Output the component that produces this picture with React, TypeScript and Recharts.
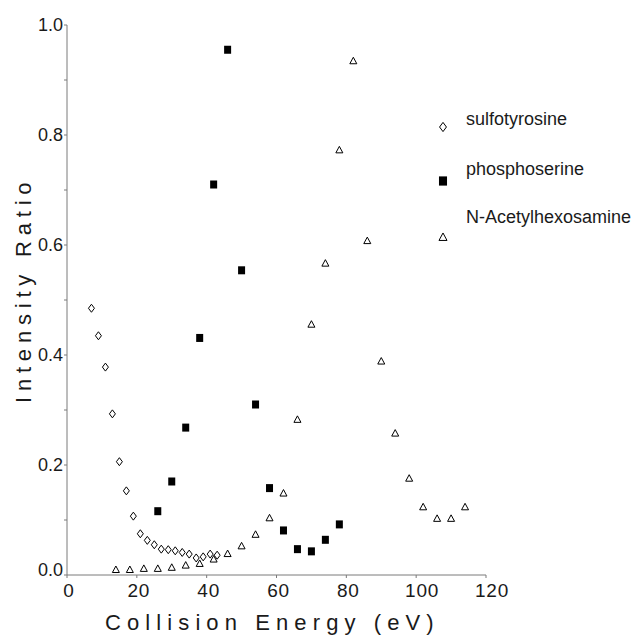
import React from 'react'
import { ScatterChart, Scatter, XAxis, YAxis, Legend, Label } from 'recharts'

// sulfotyrosine (open diamonds)
const sulfoEnergy = [7, 9, 11, 13, 15, 17, 19, 21, 23, 25, 27, 29, 31, 33, 35, 37, 39, 41, 43]
const sulfoRatio = [0.485, 0.435, 0.378, 0.293, 0.206, 0.153, 0.107, 0.075, 0.063, 0.055, 0.047, 0.046, 0.044, 0.041, 0.038, 0.031, 0.033, 0.038, 0.036]

// phosphoserine (filled squares)
const phosEnergy = [26, 30, 34, 38, 42, 46, 50, 54, 58, 62, 66, 70, 74, 78]
const phosRatio = [0.116, 0.17, 0.268, 0.431, 0.71, 0.955, 0.554, 0.31, 0.158, 0.081, 0.047, 0.043, 0.064, 0.092]

// N-Acetylhexosamine (open triangles)
const hexEnergy = [14, 18, 22, 26, 30, 34, 38, 42, 46, 50, 54, 58, 62, 66, 70, 74, 78, 82, 86, 90, 94, 98, 102, 106, 110, 114]
const hexRatio = [0.01, 0.01, 0.012, 0.012, 0.014, 0.018, 0.021, 0.029, 0.039, 0.053, 0.074, 0.104, 0.149, 0.283, 0.456, 0.567, 0.773, 0.935, 0.608, 0.389, 0.258, 0.176, 0.124, 0.103, 0.103, 0.124]

const xTicks = [0, 20, 40, 60, 80, 100, 120]
const yTicks = [0, 0.1, 0.2, 0.3, 0.4, 0.5, 0.6, 0.7, 0.8, 0.9, 1.0]

const seriesNames = ['sulfotyrosine', 'phosphoserine', 'N-Acetylhexosamine']

const toPoints = (xs: number[], ys: number[]) => xs.map((x, i) => ({ x, y: ys[i] }))

const FONT = 'Arial, "Liberation Sans", sans-serif'
const INK = '#1a1a1a'
const AXIS = '#7a7a7a'

const Diamond = ({ cx, cy, s = 1 }: any) => (
  <path d={`M${cx},${cy - 4 * s} L${cx + 3 * s},${cy} L${cx},${cy + 4 * s} L${cx - 3 * s},${cy} Z`} fill="#fff" stroke="#000" strokeWidth={1} />
)
const Square = ({ cx, cy, s = 1 }: any) => (
  <rect x={cx - 3.5 * s} y={cy - 4 * s} width={7 * s} height={8 * s} fill="#000" />
)
const Triangle = ({ cx, cy, s = 1 }: any) => (
  <path d={`M${cx},${cy - 3.5 * s} L${cx + 3.5 * s},${cy + 3 * s} L${cx - 3.5 * s},${cy + 3 * s} Z`} fill="#fff" stroke="#000" strokeWidth={1} />
)

const YTick = ({ x, y, payload }: any) => {
  const v = payload.value
  if (Math.round(v * 10) % 2 !== 0) return <g />
  // the 0.0 label sits a little above the x axis in the original
  return (
    <text x={x} y={v === 0 ? y - 5 : y} dy="0.355em" textAnchor="end" fontSize={18} fontFamily={FONT} fill={INK}>
      {v.toFixed(1)}
    </text>
  )
}

const XTick = ({ x, y, payload }: any) => (
  <text x={x} y={y} dy="0.71em" dx={payload.value >= 100 ? 6 : 2} textAnchor="middle" fontSize={19} letterSpacing={0.8} fontFamily={FONT} fill={INK}>
    {payload.value}
  </text>
)

const renderLegend = () => {
  const shapes = [Diamond, Square, Triangle]
  const markerY = [17, 71, 127]
  const textY = [15, 65, 113]
  return (
    <svg width={209} height={150}>
      {seriesNames.map((name, i) => {
        const Shape = shapes[i]
        return (
          <g key={name}>
            <Shape cx={13} cy={markerY[i]} s={1.15} />
            <text x={36} y={textY[i]} fontSize={18} fontFamily={FONT} fill={INK}>{name}</text>
          </g>
        )
      })}
    </svg>
  )
}

export default function App() {
  return (
    <div style={{ position: 'absolute', left: 0, top: 0, background: '#fff' }}>
      <ScatterChart width={639} height={635} margin={{ top: 25, right: 153, bottom: 0, left: 0 }}>
        <XAxis
          type="number"
          dataKey="x"
          domain={[0, 120]}
          ticks={xTicks}
          height={60}
          tickSize={3}
          tickMargin={6}
          stroke={AXIS}
          tick={<XTick />}
        >
          <Label
            content={() => (
              <text x={105} y={630} fontSize={22} fontFamily={FONT} fill={INK} letterSpacing={6.1}>
                Collision Energy (eV)
              </text>
            )}
          />
        </XAxis>
        <YAxis
          type="number"
          dataKey="y"
          domain={[0, 1]}
          ticks={yTicks}
          width={67}
          tickSize={3}
          tickMargin={1}
          stroke={AXIS}
          tick={<YTick />}
        >
          <Label
            content={() => (
              <text x={31} y={403} transform="rotate(-90 31 403)" fontSize={22} fontFamily={FONT} fill={INK} letterSpacing={5.8}>
                Intensity Ratio
              </text>
            )}
          />
        </YAxis>
        <Legend
          layout="vertical"
          align="center"
          verticalAlign="middle"
          content={renderLegend}
          wrapperStyle={{ position: 'absolute', left: 430, top: 110, width: 209, height: 150 }}
        />
        <Scatter name={seriesNames[0]} data={toPoints(sulfoEnergy, sulfoRatio)} shape={<Diamond />} isAnimationActive={false} />
        <Scatter name={seriesNames[1]} data={toPoints(phosEnergy, phosRatio)} shape={<Square />} isAnimationActive={false} />
        <Scatter name={seriesNames[2]} data={toPoints(hexEnergy, hexRatio)} shape={<Triangle />} isAnimationActive={false} />
      </ScatterChart>
    </div>
  )
}
